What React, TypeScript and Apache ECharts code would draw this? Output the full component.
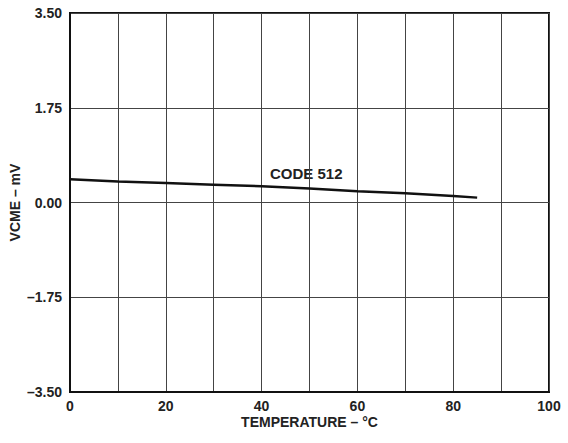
import React, { useEffect, useRef } from "react";
import * as echarts from "echarts";

const temps = [0, 10, 20, 30, 40, 50, 60, 70, 80, 85];
const vcme = [0.43, 0.39, 0.36, 0.33, 0.3, 0.26, 0.21, 0.17, 0.12, 0.09];
const yTicks = [-3.5, -1.75, 0, 1.75, 3.5];
const seriesLabel = "CODE 512";

const fmtY = (v: number) => {
  const s = Math.abs(v).toFixed(2);
  return v < 0 ? "\u2013" + s : s;
};

export default function App() {
  const ref = useRef<HTMLDivElement>(null);
  useEffect(() => {
    if (!ref.current) return;
    const chart = echarts.init(ref.current, null, { renderer: "svg" });
    const font = "Liberation Sans, Arial, Helvetica, sans-serif";
    chart.setOption({
      animation: false,
      backgroundColor: "#ffffff",
      grid: {
        left: 70,
        right: 19,
        top: 13,
        bottom: 51,
        containLabel: false,
        outerBoundsMode: "none",
        show: true,
        borderColor: "#111",
        borderWidth: 2,
        backgroundColor: "transparent",
      },
      xAxis: {
        type: "value",
        min: 0,
        max: 100,
        interval: 10,
        name: "TEMPERATURE \u2013 \u00B0C",
        nameLocation: "middle",
        nameGap: 23,
        nameMoveOverlap: false,
        nameTextStyle: { fontFamily: font, fontWeight: "bold", fontSize: 14, color: "#222" },
        axisLine: { show: true, onZero: false, lineStyle: { color: "#111", width: 2 } },
        axisTick: { show: false },
        splitLine: { show: true, lineStyle: { color: "#444", width: 1 } },
        axisLabel: {
          fontFamily: font,
          fontWeight: "bold",
          fontSize: 14,
          color: "#222",
          margin: 7,
          formatter: (v: number) => (v % 20 === 0 ? String(v) : ""),
        },
      },
      yAxis: {
        type: "value",
        min: yTicks[0],
        max: yTicks[yTicks.length - 1],
        interval: 1.75,
        name: "VCME \u2013 mV",
        nameLocation: "middle",
        nameGap: 48,
        nameMoveOverlap: false,
        nameRotate: 90,
        nameTextStyle: { fontFamily: font, fontWeight: "bold", fontSize: 14, color: "#222" },
        axisLine: { show: true, onZero: false, lineStyle: { color: "#111", width: 2 } },
        axisTick: { show: false },
        splitLine: { show: true, lineStyle: { color: "#444", width: 1 } },
        axisLabel: {
          fontFamily: font,
          fontWeight: "bold",
          fontSize: 14,
          color: "#222",
          margin: 8,
          formatter: (v: number) => fmtY(v),
        },
      },
      series: [
        {
          type: "line",
          name: seriesLabel,
          data: temps.map((t, i) => [t, vcme[i]]),
          showSymbol: false,
          lineStyle: { color: "#111", width: 2.5 },
          smooth: false,
        },
      ],
      graphic: [
        {
          type: "text",
          left: 270,
          top: 166,
          style: {
            text: seriesLabel,
            fontFamily: font,
            fontWeight: "bold",
            fontSize: 15,
            fill: "#222",
          },
        },
      ],
    });
    return () => chart.dispose();
  }, []);
  return (
    <div
      ref={ref}
      style={{ position: "fixed", left: 0, top: 0, width: 568, height: 443 }}
    />
  );
}
